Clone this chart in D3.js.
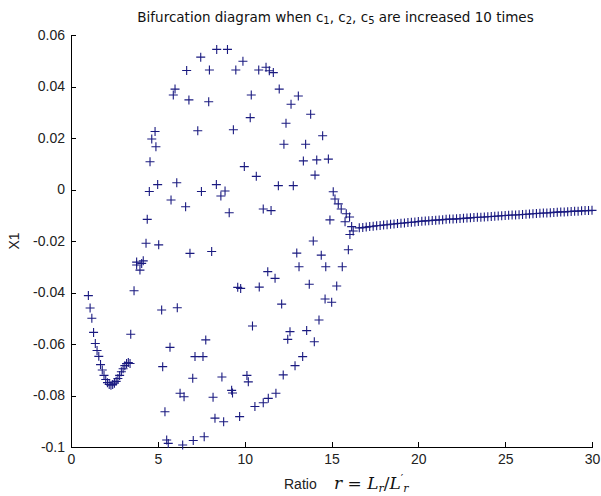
<!DOCTYPE html>
<html>
<head>
<meta charset="utf-8">
<script src="https://cdn.jsdelivr.net/npm/d3@7"></script>
<style>
  body { margin: 0; background: #fff; }
  svg { display: block; }
  .axis text { font-family: "Liberation Sans", Arial, sans-serif; font-size: 14px; fill: #222; }
  .axis path, .axis line { stroke: #000; stroke-width: 1; shape-rendering: crispEdges; }
</style>
</head>
<body>
<div id="chart-area"></div>
<script>
// tick labels
var xTicks = [0, 5, 10, 15, 20, 25, 30];
var yTicks = [0.06, 0.04, 0.02, 0, -0.02, -0.04, -0.06, -0.08, -0.1];

// stable branch for small ratio (r, X1)
var leftR  = [1.0, 1.1, 1.2, 1.3, 1.4, 1.5, 1.6, 1.7, 1.8, 1.9, 2.0, 2.1, 2.2,
              2.3, 2.4, 2.5, 2.6, 2.7, 2.8, 2.9, 3.0, 3.1, 3.2, 3.3, 3.4];
var leftX1 = [-0.0412, -0.0460, -0.0500, -0.0555, -0.0598, -0.0625, -0.0648, -0.0680, -0.0701,
              -0.0722, -0.0738, -0.0750, -0.0757, -0.0760, -0.0757, -0.0752, -0.0745, -0.0734,
              -0.0722, -0.0708, -0.0696, -0.0684, -0.0676, -0.0672, -0.0676];

// oscillating region, extrema of X1 (r, X1)
var scatter = [
  [3.44, -0.0562], [3.63, -0.0393], [3.78, -0.0282], [4.16, -0.0277], [3.78, -0.0293],
  [4.07, -0.0287], [3.97, -0.0313],
  [8.39, 0.0544], [9.01, 0.0544], [7.47, 0.0514], [9.90, 0.0498], [6.66, 0.0462],
  [7.97, 0.0464], [9.49, 0.0464], [10.81, 0.0464], [11.23, 0.0475], [11.42, 0.0461],
  [11.65, 0.0454], [5.99, 0.0390], [5.89, 0.0367], [6.79, 0.0348], [7.93, 0.0341],
  [10.38, 0.0367], [11.99, 0.0390], [13.09, 0.0363], [12.67, 0.0331], [10.32, 0.0279],
  [13.80, 0.0292], [12.38, 0.0257], [4.84, 0.0225], [4.65, 0.0196], [4.89, 0.0166],
  [7.30, 0.0228], [9.35, 0.0232], [14.49, 0.0209], [12.26, 0.0176], [13.51, 0.0176],
  [4.55, 0.0108], [9.98, 0.0089], [13.38, 0.0111], [14.15, 0.0115], [14.82, 0.0118],
  [10.67, 0.0051], [14.05, 0.0056], [4.51, -0.0008], [4.99, 0.0019], [6.09, 0.0026],
  [5.76, -0.0041], [6.60, -0.0067], [7.51, -0.0008], [8.37, 0.0019], [8.87, -0.0006],
  [8.63, -0.0025], [9.11, -0.0090], [11.94, 0.0015], [12.80, 0.0015], [11.07, -0.0076],
  [11.52, -0.0082], [4.39, -0.0116],
  [15.10, -0.0009], [15.20, -0.0037], [15.39, -0.0056], [15.56, -0.0076], [15.85, -0.0094],
  [16.04, -0.0107], [14.91, -0.0118], [15.78, -0.0125], [16.16, -0.0144], [16.25, -0.0161],
  [16.06, -0.0175],
  [4.32, -0.0209], [5.05, -0.0215], [6.85, -0.0248], [8.10, -0.0241], [13.95, -0.0200],
  [13.00, -0.0247], [14.41, -0.0255], [15.97, -0.0234], [13.13, -0.0300], [14.67, -0.0300],
  [15.62, -0.0300], [11.33, -0.0319], [11.75, -0.0345], [9.60, -0.0380], [9.77, -0.0384],
  [10.84, -0.0379], [13.72, -0.0368], [15.30, -0.0375], [5.22, -0.0468], [6.12, -0.0459],
  [14.63, -0.0425], [15.01, -0.0438], [12.13, -0.0445], [14.28, -0.0507], [10.45, -0.0530],
  [12.61, -0.0552], [12.48, -0.0582], [13.57, -0.0548], [14.01, -0.0591], [7.76, -0.0584],
  [5.70, -0.0613], [7.14, -0.0649], [7.60, -0.0649], [13.34, -0.0649], [12.90, -0.0684],
  [5.28, -0.0688], [12.22, -0.0720], [7.01, -0.0733], [8.69, -0.0728], [10.13, -0.0722],
  [10.21, -0.0747], [9.25, -0.0780], [9.30, -0.0790], [11.80, -0.0791], [11.36, -0.0811],
  [11.07, -0.0828], [10.59, -0.0843], [6.28, -0.0791], [6.51, -0.0805], [8.18, -0.0807],
  [5.41, -0.0863], [8.29, -0.0888], [8.79, -0.0902], [9.71, -0.0882], [5.51, -0.0973],
  [5.60, -0.0986], [6.43, -0.0992], [7.04, -0.0975], [7.67, -0.0960]
];

// stable branch for large ratio (r, X1)
var rightR  = [16.6, 16.8, 17.0, 17.2, 17.4, 17.6, 17.8, 18.0, 18.2, 18.4, 18.6, 18.8,
               19.0, 19.2, 19.4, 19.6, 19.8, 20.0, 20.2, 20.4, 20.6, 20.8, 21.0, 21.2,
               21.4, 21.6, 21.8, 22.0, 22.2, 22.4, 22.6, 22.8, 23.0, 23.2, 23.4, 23.6,
               23.8, 24.0, 24.2, 24.4, 24.6, 24.8, 25.0, 25.2, 25.4, 25.6, 25.8, 26.0,
               26.2, 26.4, 26.6, 26.8, 27.0, 27.2, 27.4, 27.6, 27.8, 28.0, 28.2, 28.4,
               28.6, 28.8, 29.0, 29.2, 29.4, 29.6, 29.8, 30.0];
var rightX1 = [-0.0149, -0.0148, -0.0146, -0.0144, -0.0143, -0.0141, -0.0140, -0.0138,
               -0.0137, -0.0135, -0.0134, -0.0132, -0.0131, -0.0130, -0.0128, -0.0127,
               -0.0126, -0.0124, -0.0123, -0.0122, -0.0121, -0.0120, -0.0119, -0.0118,
               -0.0117, -0.0116, -0.0115, -0.0115, -0.0114, -0.0113, -0.0112, -0.0111,
               -0.0110, -0.0109, -0.0108, -0.0108, -0.0107, -0.0106, -0.0105, -0.0104,
               -0.0103, -0.0102, -0.0101, -0.0100, -0.0099, -0.0099, -0.0098, -0.0097,
               -0.0096, -0.0095, -0.0094, -0.0093, -0.0092, -0.0091, -0.0091, -0.0090,
               -0.0089, -0.0088, -0.0087, -0.0087, -0.0086, -0.0085, -0.0084, -0.0084,
               -0.0083, -0.0082, -0.0082, -0.0081];

var W = 601, H = 496;
var margin = {left: 71, right: 9, top: 35, bottom: 49};
var width = W - margin.left - margin.right;
var height = H - margin.top - margin.bottom;

var svg = d3.select("#chart-area")
  .append("svg")
    .attr("width", W)
    .attr("height", H);

svg.append("rect").attr("width", W).attr("height", H).attr("fill", "#fff");

var g = svg.append("g")
    .attr("transform", "translate(" + margin.left + ", " + margin.top + ")");

var x = d3.scaleLinear().domain([0, 30]).range([0, width]);
var y = d3.scaleLinear().domain([-0.1, 0.06]).range([height, 0]);

var fmt = (d) => d === 0 ? "0" : String(+d.toFixed(2));

g.append("g")
    .attr("class", "axis")
    .attr("transform", "translate(0, " + height + ")")
    .call(d3.axisBottom(x).tickValues(xTicks).tickFormat(fmt)
      .tickSizeInner(-5).tickSizeOuter(0).tickPadding(7));

g.append("g")
    .attr("class", "axis")
    .call(d3.axisLeft(y).tickValues(yTicks).tickFormat(fmt)
      .tickSizeInner(-5).tickSizeOuter(0).tickPadding(6));

// all points together
var points = [];
leftR.forEach((r, i) => points.push([r, leftX1[i]]));
scatter.forEach((p) => points.push(p));
rightR.forEach((r, i) => points.push([r, rightX1[i]]));

var s = 4.5;
g.append("g")
  .selectAll("path")
  .data(points)
  .enter()
  .append("path")
    .attr("d", (d) => {
      var px = x(d[0]), py = y(d[1]);
      return "M" + (px - s) + "," + py + "H" + (px + s) + "M" + px + "," + (py - s) + "V" + (py + s);
    })
    .attr("fill", "none")
    .attr("stroke", "#1a1a80")
    .attr("stroke-width", 1.1);

// title
var title = svg.append("text")
    .attr("x", margin.left + width / 2 + 4)
    .attr("y", 22)
    .attr("text-anchor", "middle")
    .attr("font-family", "'DejaVu Sans', sans-serif")
    .attr("font-size", "13.5px")
    .attr("fill", "#111");
title.append("tspan").text("Bifurcation diagram when c");
title.append("tspan").attr("font-size", "10px").attr("dy", 2).text("1");
title.append("tspan").attr("dy", -2).text(", c");
title.append("tspan").attr("font-size", "10px").attr("dy", 2).text("2");
title.append("tspan").attr("dy", -2).text(", c");
title.append("tspan").attr("font-size", "10px").attr("dy", 2).text("5");
title.append("tspan").attr("dy", -2).text(" are increased 10 times");

// y label
svg.append("text")
    .attr("transform", "translate(19, " + (margin.top + height / 2) + ") rotate(-90)")
    .attr("text-anchor", "middle")
    .attr("font-family", "'Liberation Sans', Arial, sans-serif")
    .attr("font-size", "14px")
    .attr("fill", "#222")
    .text("X1");

// x label
svg.append("text")
    .attr("x", 284)
    .attr("y", 489)
    .attr("font-family", "'Liberation Sans', Arial, sans-serif")
    .attr("font-size", "14px")
    .attr("fill", "#222")
    .text("Ratio");

var serif = "'DejaVu Serif', 'Liberation Serif', serif";
var xl = svg.append("text")
    .attr("x", 334)
    .attr("y", 489)
    .attr("font-family", serif)
    .attr("font-size", "17px")
    .attr("fill", "#111");
xl.append("tspan").attr("font-style", "italic").text("r");
xl.append("tspan").text(" = ");
xl.append("tspan").attr("font-style", "italic").text("L");
xl.append("tspan").attr("font-style", "italic").attr("font-size", "11px").attr("dy", 3).text("r");
xl.append("tspan").attr("dy", -3).text("/");
xl.append("tspan").attr("font-style", "italic").text("L");
xl.append("tspan").attr("font-size", "11px").attr("dy", -7).text("′");
xl.append("tspan").attr("font-style", "italic").attr("font-size", "11px").attr("dy", 10).text("r");
</script>
</body>
</html>
